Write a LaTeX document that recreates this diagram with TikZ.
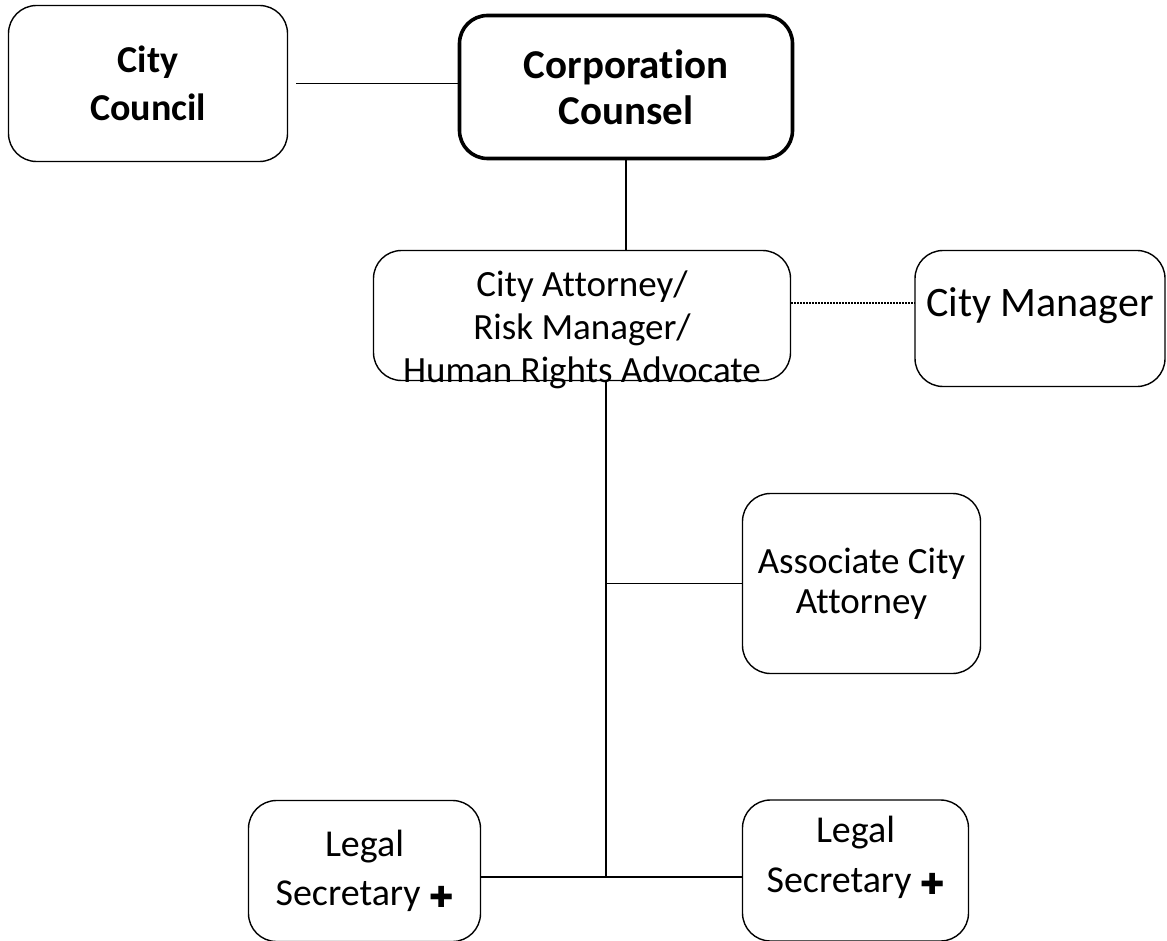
\documentclass[tikz,border=0pt]{standalone}
\usepackage{fontspec}
\setmainfont[Ligatures=NoCommon]{Carlito}
\newfontfamily\dejavu{DejaVu Sans}
\newcommand{\plusmark}{\raisebox{-2pt}{\dejavu\fontsize{29}{29}\selectfont ✚}}

\begin{document}
\begin{tikzpicture}[x=1pt,y=-1pt,
	orgbox/.style={draw=black, line width=1.4pt, rounded corners=28pt, align=center, inner sep=0pt},
	headbox/.style={orgbox, line width=3.6pt},
	link/.style={line width=1.8pt},
	boxtext/.style={font=\fontsize{37}{43}\selectfont, align=center}]
	\useasboundingbox (0,0) rectangle (1167,941);
	\node [orgbox, minimum width=279pt, minimum height=156pt, font=\fontsize{38}{48}\selectfont\bfseries] (council) at (148,83.5) {City\\Council};
	\node [headbox, minimum width=333pt, minimum height=143pt, font=\fontsize{41}{46}\selectfont\bfseries] (corp) at (626,87) {Corporation\\Counsel};
	\node [orgbox, minimum width=417pt, minimum height=130pt, label={[boxtext, yshift=-14pt]center:City Attorney/\\Risk Manager/\\Human Rights Advocate}] (attorney) at (582,315.5) {};
	\node [orgbox, minimum width=250pt, minimum height=136pt, label={[font=\fontsize{42}{48}\selectfont, yshift=12.5pt]center:City Manager}] (manager) at (1040,318.5) {};
	\node [orgbox, minimum width=238pt, minimum height=180pt, font=\fontsize{37}{40}\selectfont] (associate) at (861.5,583.5) {Associate City\\Attorney};
	\node [orgbox, minimum width=232pt, minimum height=141pt, font=\fontsize{38}{49}\selectfont] (legalA) at (364.5,871) {Legal\\Secretary \plusmark};
	\node [orgbox, minimum width=226pt, minimum height=141pt, label={[boxtext, font=\fontsize{38}{50}\selectfont, yshift=13pt]center:Legal\\Secretary \plusmark}] (legalB) at (855.5,870.5) {};
	\coordinate (junction) at (606,877);
	\draw [link] ([xshift=8pt]council.east) -- (council.east -| corp.west);
	\draw [link] (corp.south) -- (corp.south |- attorney.north);
	\draw [link, dash pattern=on 1.6pt off 1.4pt] ([yshift=12.5pt]attorney.east) -- ([yshift=12.5pt]attorney.east -| manager.west);
	\draw [link] ([xshift=24pt]attorney.south) -- (junction);
	\draw [link] (associate.west -| junction) -- (associate.west);
	\draw [link] (legalA.east |- junction) -- (junction) -- (legalB.west |- junction);
\end{tikzpicture}
\end{document}
